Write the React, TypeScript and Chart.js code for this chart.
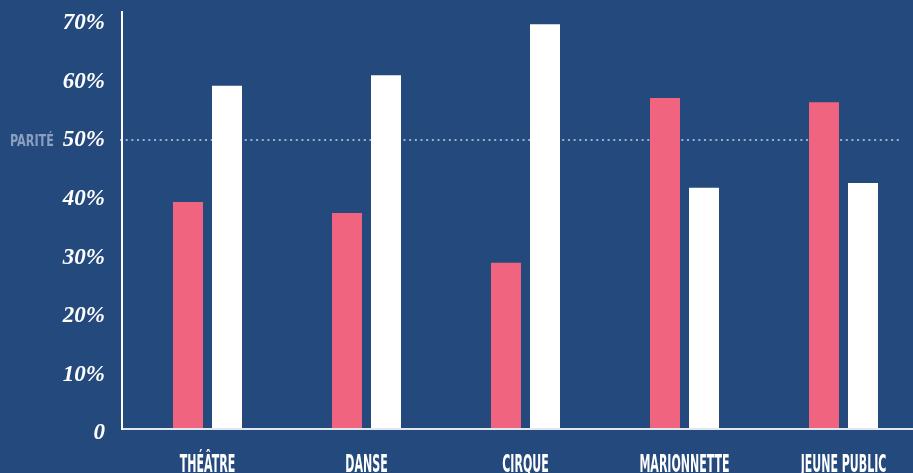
import React, { useEffect, useRef } from "react";
import { Chart, registerables } from "chart.js";

Chart.register(...registerables);

// ---- data ----
const CATEGORIES = ["THÉÂTRE", "DANSE", "CIRQUE", "MARIONNETTE", "JEUNE PUBLIC"];
const WOMEN = [39.5, 37.6, 29.1, 57.2, 56.5];
const MEN = [59.3, 61.1, 69.8, 41.9, 42.7];
const Y_TICKS = [0, 10, 20, 30, 40, 50, 60, 70];
const PARITY = 50;
const PARITY_LABEL = "PARITÉ";

// ---- layout / style ----
const W = 913;
const H = 473;
const BG = "#24497c";
const PINK = "#f06480";
const WHITE = "#ffffff";
const Y_MIN = 0.77;
const Y_MAX = 71.88;
const X_MIN = -0.5377;
const X_MAX = 4.4371;
const CONDENSED = "'DejaVu Sans Condensed', 'DejaVu Sans', sans-serif";

// draws condensed (Bebas-like) text by squeezing horizontally
function squeezedText(ctx: CanvasRenderingContext2D, text: string, x: number, y: number, sx: number, align: "left" | "center") {
  ctx.save();
  ctx.translate(x, y);
  ctx.scale(sx, 1);
  ctx.textAlign = align;
  ctx.textBaseline = "alphabetic";
  ctx.fillText(text, 0, 0);
  ctx.restore();
}

const labelsPlugin = {
  id: "labels",
  beforeDatasetsDraw(chart: any) {
    const { ctx, chartArea, scales } = chart;
    const y = Math.round(scales.y.getPixelForValue(PARITY));
    ctx.save();
    ctx.strokeStyle = "#9db0cf";
    ctx.lineWidth = 2;
    ctx.setLineDash([2, 3.67]);
    ctx.beginPath();
    ctx.moveTo(chartArea.left - 2, y);
    ctx.lineTo(chartArea.right - 13, y);
    ctx.stroke();
    ctx.setLineDash([]);
    ctx.fillStyle = "#8a9fc2";
    ctx.font = `bold 16px ${CONDENSED}`;
    squeezedText(ctx, PARITY_LABEL, chartArea.left - 112, y + 6, 0.78, "left");
    ctx.restore();
  },
  afterDraw(chart: any) {
    const { ctx, chartArea, scales } = chart;
    ctx.save();
    ctx.fillStyle = "#ffffff";
    ctx.font = `bold 24px ${CONDENSED}`;
    CATEGORIES.forEach((c, i) => {
      const x = scales.x.getPixelForValue(i);
      squeezedText(ctx, c, x, chartArea.bottom + 43, 0.51, "center");
    });
    ctx.restore();
  },
};

export default function App() {
  const ref = useRef<HTMLCanvasElement | null>(null);

  useEffect(() => {
    if (!ref.current) return;
    const chart = new Chart(ref.current, {
      type: "bar",
      data: {
        datasets: [
          {
            label: "Femmes",
            data: WOMEN.map((v, i) => ({ x: i, y: v })),
            backgroundColor: PINK,
            borderWidth: 0,
            categoryPercentage: 0.4906,
            barPercentage: 0.7692,
          },
          {
            label: "Hommes",
            data: MEN.map((v, i) => ({ x: i, y: v })),
            backgroundColor: WHITE,
            borderWidth: 0,
            categoryPercentage: 0.4906,
            barPercentage: 0.7692,
          },
        ],
      },
      options: {
        responsive: false,
        animation: false,
        devicePixelRatio: 1,
        layout: { padding: { top: 12, left: 0, right: 0, bottom: 0 } },
        plugins: { legend: { display: false }, tooltip: { enabled: false } },
        scales: {
          x: {
            type: "linear",
            min: X_MIN,
            max: X_MAX,
            offset: false,
            bounds: "data",
            grid: { display: false, drawTicks: false },
            border: { display: true, color: "#e2e6ef", width: 2, z: 1 },
            afterBuildTicks: (s: any) => {
              s.ticks = CATEGORIES.map((_, i) => ({ value: i }));
            },
            afterFit: (s: any) => {
              s.height = 44;
              s.paddingLeft = 0;
              s.paddingRight = 0;
            },
            ticks: { display: false },
          },
          y: {
            type: "linear",
            min: Y_MIN,
            max: Y_MAX,
            bounds: "data",
            grid: { display: false, drawTicks: false },
            border: { display: true, color: "#ffffff", width: 2, z: 1 },
            afterBuildTicks: (s: any) => {
              s.ticks = Y_TICKS.map((v) => ({ value: v }));
            },
            afterFit: (s: any) => {
              s.width = 122;
              s.paddingTop = 0;
              s.paddingBottom = 0;
            },
            ticks: {
              padding: 17,
              color: "#ffffff",
              font: { family: "'Liberation Serif', 'DejaVu Serif', serif", style: "italic", weight: "bold", size: 23 },
              callback: (v: any) => (Number(v) === 0 ? "0" : `${v}%`),
            },
          },
        },
      },
      plugins: [labelsPlugin],
    } as any);
    return () => chart.destroy();
  }, []);

  return (
    <div
      style={{
        position: "fixed",
        left: 0,
        top: 0,
        width: W,
        height: H,
        overflow: "hidden",
        background: BG,
      }}
    >
      <canvas ref={ref} width={W} height={H} style={{ display: "block", width: W, height: H }} />
    </div>
  );
}
